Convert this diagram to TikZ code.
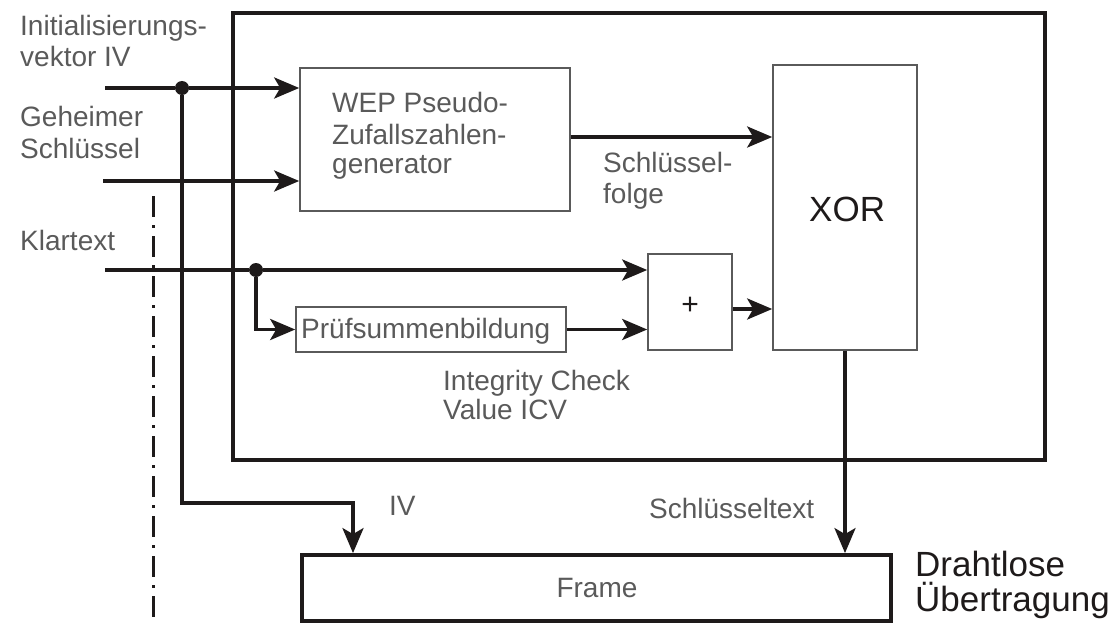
\documentclass[tikz,border=0pt]{standalone}
\usepackage{fontspec}
\setmainfont{Liberation Sans}
\usetikzlibrary{arrows.meta}
\definecolor{labelgray}{HTML}{5A5A5A}
\definecolor{ink}{HTML}{1E1A1A}
\tikzset{
  x=1pt, y=-1pt,
  lbl/.style={inner sep=0pt, text=labelgray, font=\fontsize{28}{31}\selectfont, align=left, anchor=base west},
  thinbox/.style={draw=labelgray, line width=1.6pt, inner sep=0pt},
  flow/.style={draw=ink, line width=3.6pt, -{Stealth[length=25pt,width=21pt,inset=6pt]}},
  wire/.style={draw=ink, line width=3.6pt},
  junction/.style={circle, fill=ink, inner sep=0pt, minimum size=14pt},
}
\begin{document}
\begin{tikzpicture}
\useasboundingbox (0,0) rectangle (1115,623);

% separation line between sender side and inputs
\draw[ink, line width=3pt, dash pattern=on 21pt off 8pt on 3pt off 8pt] (153,196) -- (153,623);

% enclosing WEP block
\draw[ink, line width=3.8pt] (233,13) rectangle (1045,460);

% function blocks
\node[thinbox, minimum width=270pt, minimum height=143pt] (prng) at (435,139.5) {};
\node[thinbox, minimum width=144pt, minimum height=285pt] (xor) at (845,207.5) {};
\node[thinbox, minimum width=84pt, minimum height=96pt] (plus) at (690,302) {};
\node[thinbox, minimum width=270pt, minimum height=45pt] (icv) at (431,329.5) {};
\node[draw=ink, line width=3.8pt, minimum width=589pt, minimum height=66pt, inner sep=0pt] (frame) at (596.5,588) {};

% block texts
\node[lbl] at (332,113) {WEP Pseudo-};
\node[lbl] at (332,144) {Zufallszahlen-};
\node[lbl] at (332,173) {generator};
\node[inner sep=0pt, text=ink, font=\fontsize{35}{40}\selectfont, anchor=base west] at (809,221) {XOR};
\node[inner sep=0pt, text=ink, font=\fontsize{30}{30}\selectfont] at (690,306) {+};
\node[lbl] at (301,338) {Prüfsummenbildung};
\node[lbl, anchor=base] at (597,597) {Frame};

% input labels
\node[lbl] at (20,36) {Initialisierungs-};
\node[lbl] at (20,67) {vektor IV};
\node[lbl] at (20,127) {Geheimer};
\node[lbl] at (20,158) {Schlüssel};
\node[lbl] at (20,250) {Klartext};

% inner labels
\node[lbl] at (603,172) {Schlüssel-};
\node[lbl] at (603,203) {folge};
\node[lbl] at (443,390) {Integrity Check};
\node[lbl] at (443,419) {Value ICV};
\node[lbl] at (389,515) {IV};
\node[lbl] at (649,518) {Schlüsseltext};
\node[lbl, text=ink, font=\fontsize{35}{38}\selectfont] at (915,576) {Drahtlose};
\node[lbl, text=ink, font=\fontsize{35}{38}\selectfont] at (915,611) {Übertragung};

% junction points and free line ends
\node[junction] (jiv) at (182,88) {};
\node[junction] (jkt) at (256,270) {};
\coordinate (ivin) at (105,88);
\coordinate (keyin) at (103,181);
\coordinate (ptin) at (105,270);
\coordinate (ivbend) at (182,503);

% data flow
\draw[wire] (ivin) -- (jiv);
\draw[flow] (jiv) -- (prng.west |- jiv);
\draw[flow] (keyin) -- (prng.west |- keyin);
\draw[wire] (ptin) -- (jkt);
\draw[flow] (jkt) -- (plus.west |- jkt);
\draw[flow] (jkt) |- (icv.west);
\draw[flow] (icv.east) -- (plus.west |- icv.east);
\draw[flow] (plus.east |- 0,309) -- (xor.west |- 0,309);
\draw[flow] (prng.east |- 0,137) -- (xor.west |- 0,137);
\draw[flow] (jiv) -- (ivbend) -| (frame.north -| 353,0);
\draw[flow] (xor.south -| 845,0) -- (frame.north -| 845,0);
\end{tikzpicture}
\end{document}
